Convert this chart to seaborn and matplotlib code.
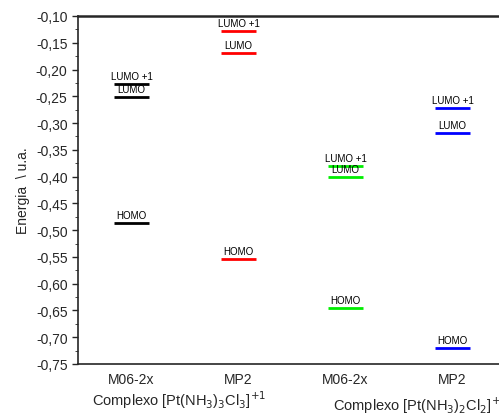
import matplotlib
matplotlib.use("Agg")
import matplotlib.pyplot as plt
import seaborn as sns
import pandas as pd
from matplotlib.ticker import MultipleLocator, FuncFormatter

sns.set_style("ticks")
plt.rcParams['font.family'] = ['Liberation Sans', 'DejaVu Sans']

categories = ["M06-2x", "MP2", "M06-2x", "MP2"]
colors = ["black", "red", "#00ee00", "blue"]
homo = [-0.487, -0.554, -0.645, -0.720]
lumo = [-0.251, -0.169, -0.401, -0.319]
lumo1 = [-0.227, -0.128, -0.380, -0.272]
xlabels = ["Complexo [Pt(NH$_3$)$_3$Cl$_3$]$^{+1}$",
           "Complexo [Pt(NH$_3$)$_2$Cl$_2$]$^{+2}$"]

rows = []
for i, c in enumerate(categories):
    for lvl, vals in (("HOMO", homo), ("LUMO", lumo), ("LUMO +1", lumo1)):
        rows.append({"pos": i + 1, "level": lvl, "energy": vals[i], "color": colors[i]})
df = pd.DataFrame(rows)

fig = plt.figure(figsize=(4.99, 4.14), dpi=100)
ax = fig.add_axes([78/499, 49/414, 428/499, 348/414])

half = 0.16
for _, r in df.iterrows():
    ax.hlines(r["energy"], r["pos"] - half, r["pos"] + half, color=r["color"], lw=2)
    ax.text(r["pos"], r["energy"] + 0.006, r["level"], ha="center", va="bottom",
            fontsize=7, color="black")

ax.set_xlim(0.5, 4.5)
ax.set_ylim(-0.75, -0.10)
ax.set_xticks(range(1, 5))
ax.set_xticklabels(categories, fontsize=10)
ax.tick_params(axis="x", length=0, pad=6)
ax.yaxis.set_major_locator(MultipleLocator(0.05))
ax.yaxis.set_minor_locator(MultipleLocator(0.025))
ax.yaxis.set_major_formatter(FuncFormatter(lambda v, p: f"{v:.2f}".replace(".", ",")))
ax.tick_params(axis="y", labelsize=10, length=4, width=1)
ax.tick_params(axis="y", which="minor", length=2.5)
ax.set_ylabel("Energia  \\ u.a.", fontsize=10, labelpad=4)
for s in ax.spines.values():
    s.set_linewidth(1.2)
ax.spines["top"].set_linewidth(1.8)

fig.text(92/499, 1 - 406/414, xlabels[0], fontsize=10.5, ha="left", va="baseline")
fig.text(333/499, 1 - 411/414, xlabels[1], fontsize=10.5, ha="left", va="baseline")

fig.savefig("out.png", dpi=100)
